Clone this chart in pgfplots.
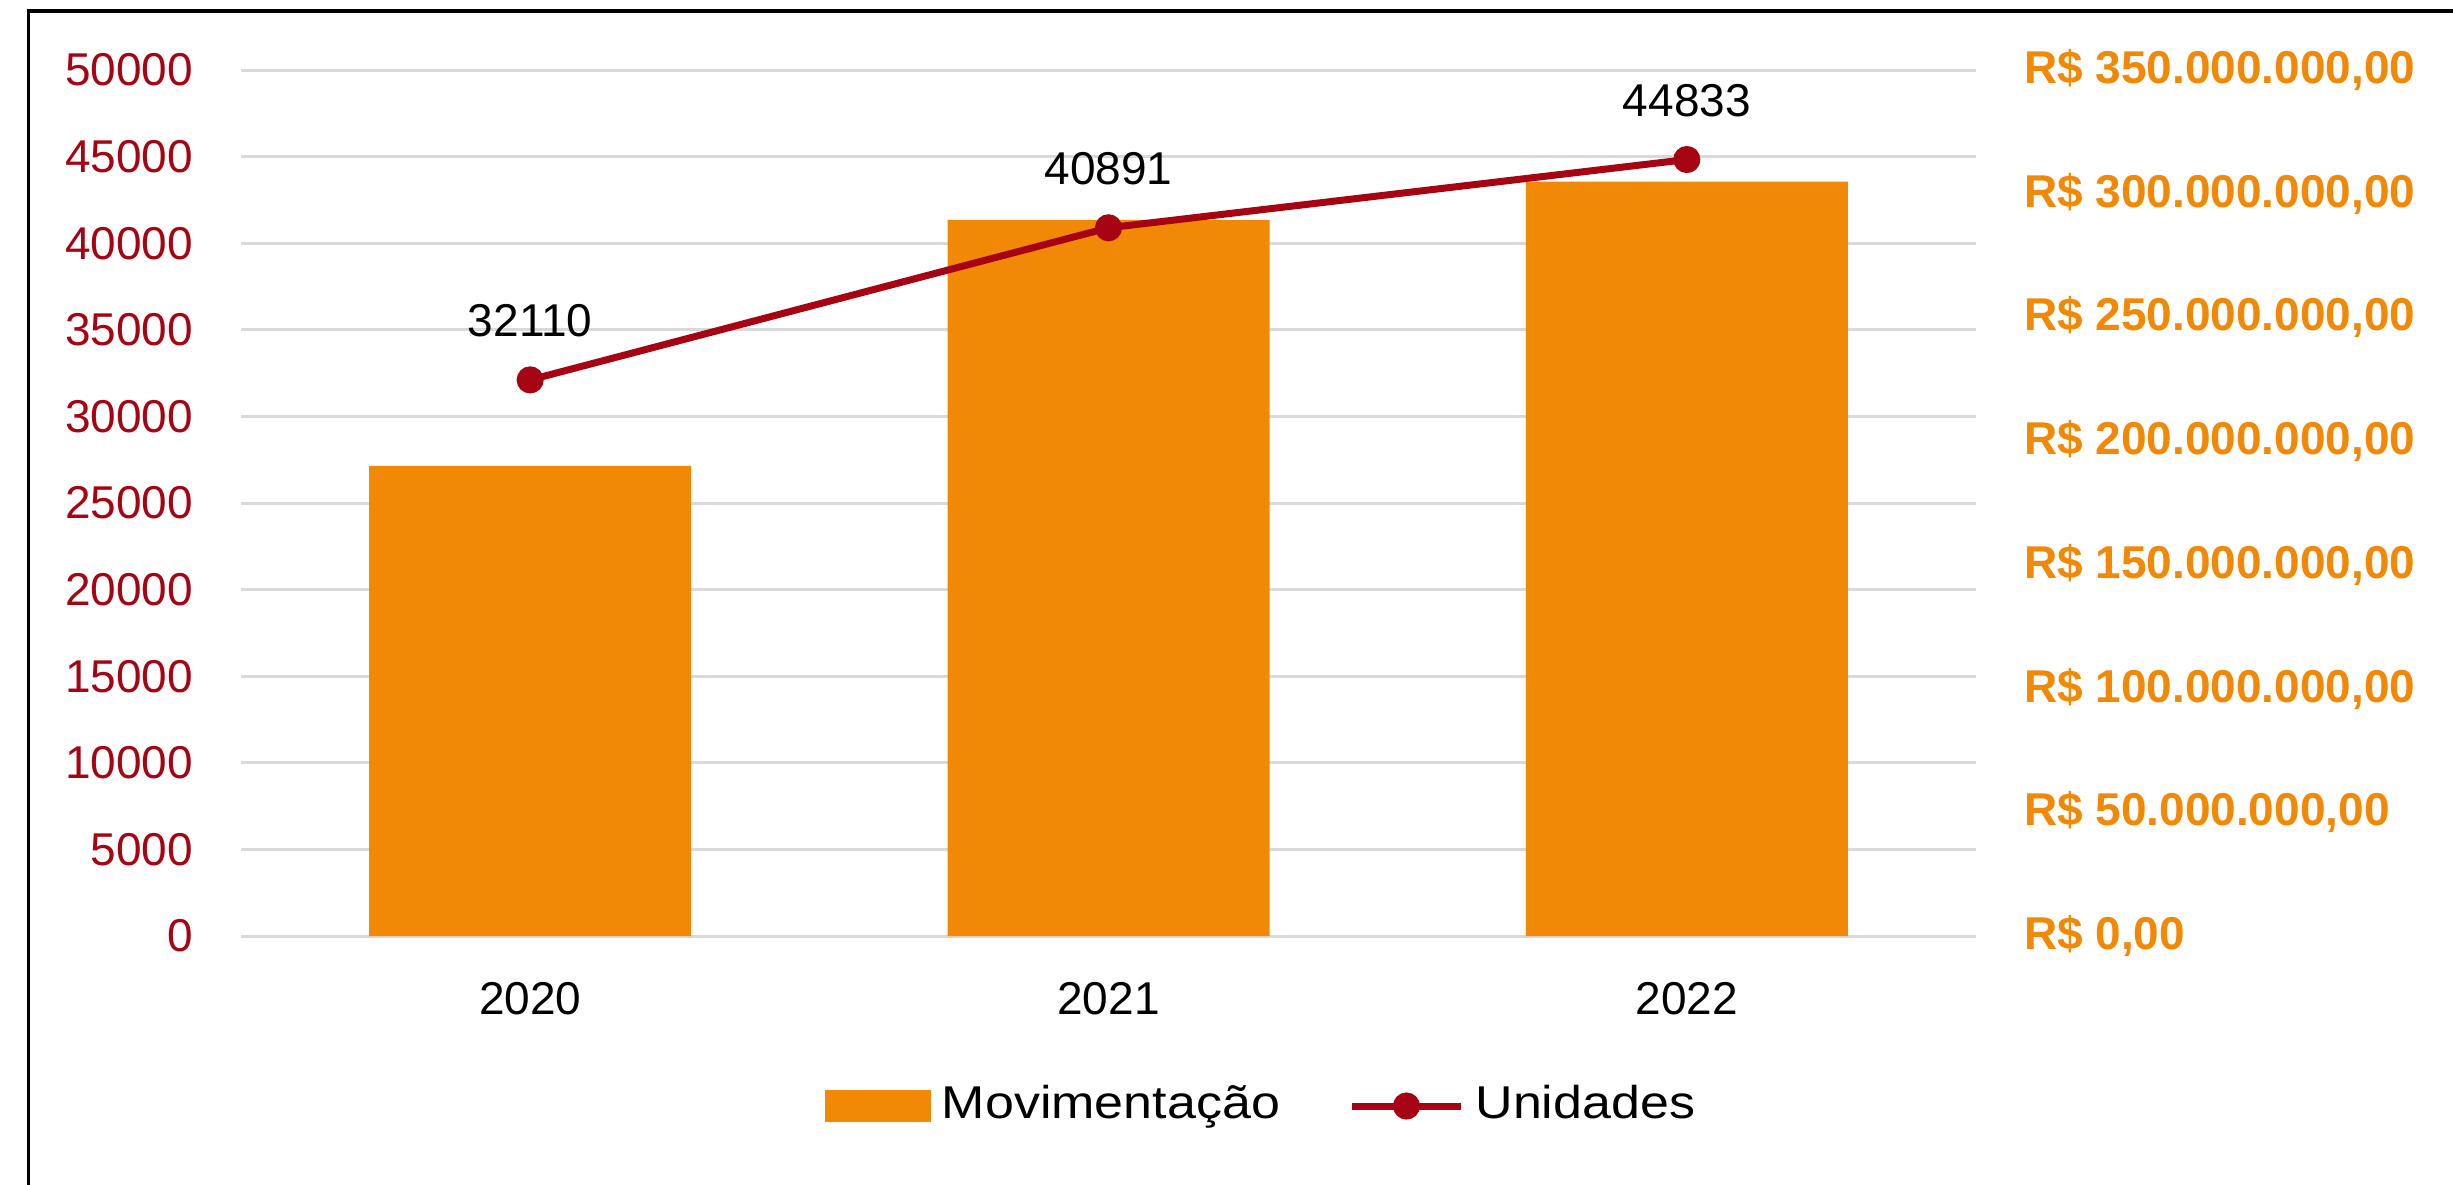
\documentclass[border=0pt]{standalone}
\usepackage{fontspec}
\setmainfont{Liberation Sans}
\newfontfamily\legfont{Liberation Sans}[FakeStretch=1.13]
\usepackage{pgfplots}
\pgfplotsset{compat=1.18}
\definecolor{barorange}{RGB}{241,136,6}
\definecolor{linered}{RGB}{166,4,18}
\definecolor{gridgray}{RGB}{217,217,217}
\begin{document}
\begin{tikzpicture}[font=\fontsize{9.2}{11}\selectfont]
\path[use as bounding box] (0,0) rectangle (490.6pt,236.8pt);
\draw[black, line width=0.7pt] (5.74pt,-5pt) rectangle (500pt,234.6pt);
% Bars: right axis (R$)
\begin{axis}[
  at={(48.2pt,49.6pt)}, anchor=south west,
  scale only axis, width=347pt, height=173.2pt,
  xmin=-0.5, xmax=2.5, ymin=0, ymax=350000000,
  scaled y ticks=false,
  axis line style={draw=none}, major tick length=0pt, tick style={draw=none},
  yticklabel pos=right,
  ytick={0,50000000,100000000,150000000,200000000,250000000,300000000,350000000},
  yticklabels={{R\$ 0,00},{R\$ 50.000.000,00},{R\$ 100.000.000,00},{R\$ 150.000.000,00},{R\$ 200.000.000,00},{R\$ 250.000.000,00},{R\$ 300.000.000,00},{R\$ 350.000.000,00}},
  yticklabel style={anchor=west, inner sep=0pt, xshift=9.4pt, text=barorange, font=\fontsize{9.2}{11}\selectfont\bfseries},
  extra y ticks={0,35000000,70000000,105000000,140000000,175000000,210000000,245000000,280000000,315000000,350000000},
  extra y tick labels={},
  extra y tick style={grid=major, major grid style={gridgray, line width=0.6pt}, tick style={draw=none}},
  xtick={0,1,2}, xticklabels={2020,2021,2022},
  xticklabel style={anchor=north, inner sep=0pt, yshift=-9.1pt, text=black, font=\fontsize{9.2}{11}\selectfont},
  clip=false,
]
\addplot[ybar, bar width=64.4pt, fill=barorange, draw=none] coordinates {(0,190000000) (1,289400000) (2,304900000)};
\end{axis}
% Line: left axis (Unidades)
\begin{axis}[
  at={(48.2pt,49.6pt)}, anchor=south west,
  scale only axis, width=347pt, height=173.2pt,
  xmin=-0.5, xmax=2.5, ymin=0, ymax=50000,
  scaled y ticks=false,
  axis line style={draw=none}, major tick length=0pt, tick style={draw=none},
  ytick={0,5000,10000,15000,20000,25000,30000,35000,40000,45000,50000},
  yticklabels={0,5000,10000,15000,20000,25000,30000,35000,40000,45000,50000},
  yticklabel style={anchor=east, inner sep=0pt, xshift=-9.4pt, text=linered, font=\fontsize{9.2}{11}\selectfont},
  xtick=\empty,
  clip=false,
  legend columns=2,
  legend cell align=left,
  legend style={at={(axis description cs:0.336,-0.1963)}, anchor=west, draw=none, fill=none,
    inner sep=0pt, nodes={inner sep=0pt, inner xsep=2.2pt}, font=\fontsize{9.2}{11}\selectfont\legfont},
]
\addlegendimage{legend image code/.code={\fill[barorange] (0pt,-3pt) rectangle (20.8pt,3pt);}}
\addlegendentry{Movimentação\rule{11.5pt}{0pt}}
\addplot[linered, line width=1.4pt, mark=*, mark size=2pt,
  mark options={fill=linered, draw=none},
  legend image code/.code={\draw[linered, line width=1.4pt] (0pt,0pt) -- (21.8pt,0pt); \fill[linered] (10.9pt,0pt) circle (2pt);},
  nodes near coords, point meta=explicit symbolic,
  every node near coord/.append style={anchor=south, inner sep=0pt, yshift=7.9pt, text=black, font=\fontsize{9.2}{11}\selectfont},
] coordinates {(0,32110) [32110] (1,40891) [40891] (2,44833) [44833]};
\addlegendentry{Unidades}
\end{axis}
\end{tikzpicture}
\end{document}
